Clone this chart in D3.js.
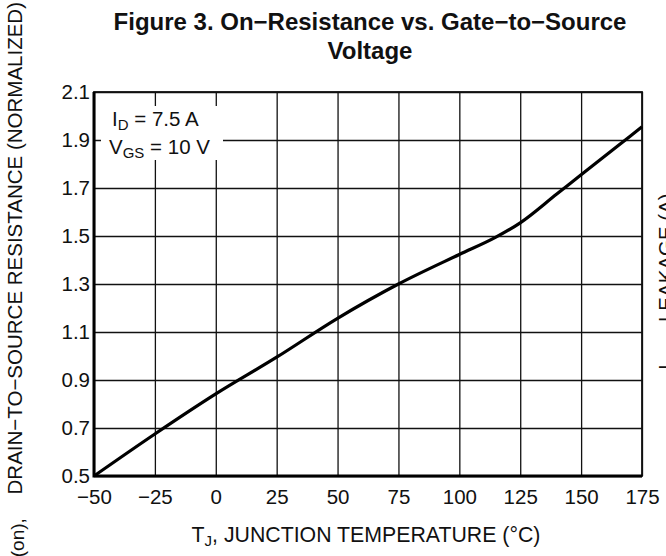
<!DOCTYPE html>
<html lang="en">
<head>
  <meta charset="UTF-8">
  <title>On-Resistance vs. Junction Temperature</title>
  <script src="https://d3js.org/d3.v7.min.js"></script>
  <style>
    body {
      margin: 0;
      background: #fff;
    }
    svg {
      display: block;
      font-family: "Liberation Sans", Arial, sans-serif;
    }
    .grid line {
      stroke: #111;
      stroke-width: 1.3;
    }
    .grid .domain {
      display: none;
    }
    .grid text {
      font-size: 20.5px;
      fill: #111;
    }
  </style>
</head>
<body>
  <svg width="666" height="556"></svg>

  <script>
    // junction temperature (°C) and normalized RDS(on)
    const temps = [-50, -25, 0, 25, 50, 75, 100, 115, 125, 140, 150, 165, 175];
    const rdsNorm = [0.50, 0.675, 0.842, 0.995, 1.157, 1.30, 1.423, 1.495, 1.555, 1.675, 1.755, 1.875, 1.955];

    const xTicks = [-50, -25, 0, 25, 50, 75, 100, 125, 150, 175];
    const xTickLabels = ["−50", "−25", "0", "25", "50", "75", "100", "125", "150", "175"];
    const yTicks = [0.5, 0.7, 0.9, 1.1, 1.3, 1.5, 1.7, 1.9, 2.1];
    const yTickLabels = ["0.5", "0.7", "0.9", "1.1", "1.3", "1.5", "1.7", "1.9", "2.1"];

    const svg = d3.select("svg");
    const margin = { top: 92, right: 24, bottom: 80, left: 94 };
    const width = +svg.attr("width") - margin.left - margin.right;
    const height = +svg.attr("height") - margin.top - margin.bottom;

    const chart = svg.append("g")
      .attr("transform", `translate(${margin.left},${margin.top})`);

    const x = d3.scaleLinear().domain([-50, 175]).range([0, width]);
    const y = d3.scaleLinear().domain([0.5, 2.1]).range([height, 0]);

    // grid + tick labels
    chart.append("g")
      .attr("class", "grid")
      .attr("transform", `translate(0,${height})`)
      .call(d3.axisBottom(x)
        .tickValues(xTicks)
        .tickSize(-height)
        .tickPadding(13)
        .tickFormat((d, i) => xTickLabels[i]));

    chart.append("g")
      .attr("class", "grid")
      .call(d3.axisLeft(y)
        .tickValues(yTicks)
        .tickSize(-width)
        .tickPadding(4)
        .tickFormat((d, i) => yTickLabels[i]));

    // frame: heavier on the left and bottom
    chart.append("rect")
      .attr("width", width)
      .attr("height", height)
      .attr("fill", "none")
      .attr("stroke", "#111")
      .attr("stroke-width", 1.8);
    chart.append("path")
      .attr("d", `M0,0V${height}H${width}`)
      .attr("fill", "none")
      .attr("stroke", "#000")
      .attr("stroke-width", 3);

    // curve
    const line = d3.line()
      .x((d, i) => x(temps[i]))
      .y(d => y(d))
      .curve(d3.curveMonotoneX);

    chart.append("path")
      .datum(rdsNorm)
      .attr("fill", "none")
      .attr("stroke", "#000")
      .attr("stroke-width", 3.2)
      .attr("stroke-linejoin", "round")
      .attr("d", line);

    // condition box
    svg.append("rect")
      .attr("x", 101).attr("y", 106)
      .attr("width", 122).attr("height", 54)
      .attr("fill", "#fff");

    const cond = svg.append("g")
      .attr("font-size", 20.5)
      .attr("fill", "#111");
    const t1 = cond.append("text").attr("x", 112).attr("y", 126);
    t1.append("tspan").text("I");
    t1.append("tspan").attr("font-size", 15).attr("dy", 4).text("D");
    t1.append("tspan").attr("dy", -4).text(" = 7.5 A");
    const t2 = cond.append("text").attr("x", 109).attr("y", 154);
    t2.append("tspan").text("V");
    t2.append("tspan").attr("font-size", 15).attr("dy", 4).text("GS");
    t2.append("tspan").attr("dy", -4).text(" = 10 V");

    // title
    const title = svg.append("text")
      .attr("text-anchor", "middle")
      .attr("font-size", 24)
      .attr("font-weight", "bold")
      .attr("fill", "#111");
    title.append("tspan").attr("x", 370).attr("y", 30)
      .text("Figure 3. On−Resistance vs. Gate−to−Source");
    title.append("tspan").attr("x", 370).attr("y", 59)
      .text("Voltage");

    // x axis title
    const xt = svg.append("text")
      .attr("x", 366)
      .attr("y", 542)
      .attr("text-anchor", "middle")
      .attr("font-size", 21.3)
      .attr("fill", "#111");
    xt.append("tspan").text("T");
    xt.append("tspan").attr("font-size", 15).attr("dy", 4).text("J");
    xt.append("tspan").attr("dy", -4).text(", JUNCTION TEMPERATURE (°C)");

    // y axis title (runs off the page)
    const yt = svg.append("text")
      .attr("transform", "translate(22,2) rotate(-90)")
      .attr("text-anchor", "end")
      .attr("font-size", 20.5)
      .attr("fill", "#111");
    yt.append("tspan").text("R");
    yt.append("tspan").attr("font-size", 19).attr("dy", 2).text("DS(on),");
    yt.append("tspan").attr("dy", -2).attr("dx", 18).text(" DRAIN−TO−SOURCE RESISTANCE (NORMALIZED)");

    // neighbouring chart's axis title, cut by the right edge
    const rt = svg.append("text")
      .attr("transform", "translate(673,370) rotate(-90)")
      .attr("font-size", 20.5)
      .attr("fill", "#111");
    rt.append("tspan").text("I");
    rt.append("tspan").attr("font-size", 15).attr("dy", 4).text("DSS");
    rt.append("tspan").attr("dy", -4).text(", LEAKAGE (A)");
  </script>
</body>
</html>
